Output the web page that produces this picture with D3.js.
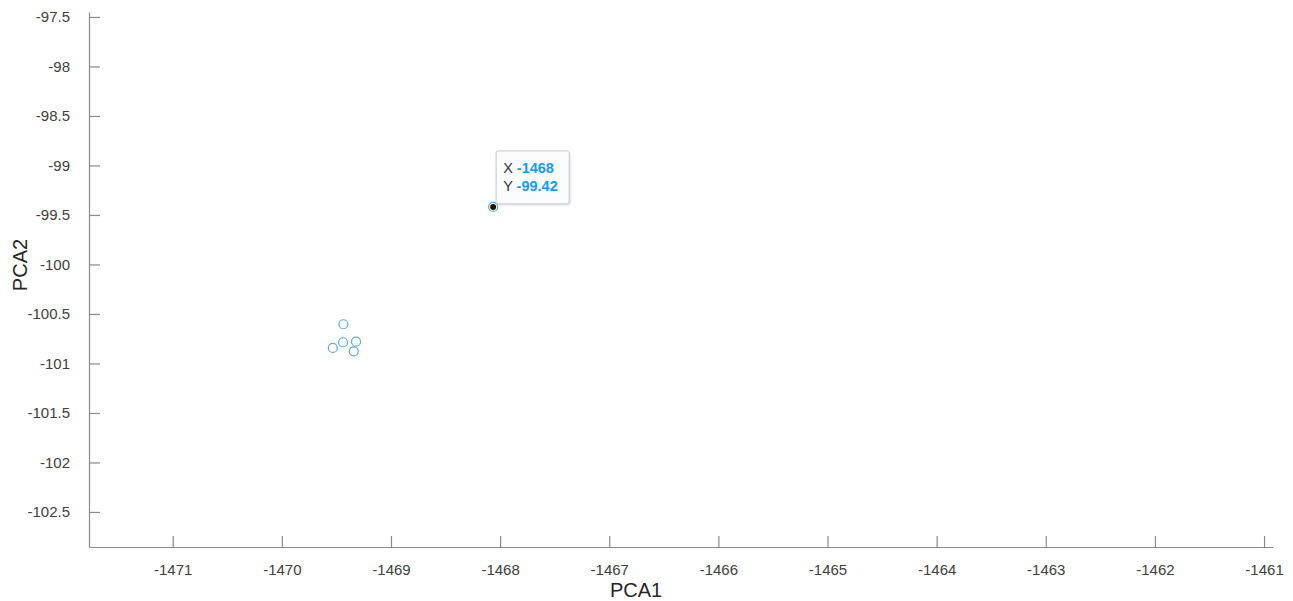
<!DOCTYPE html>
<html>
<head>
<meta charset="utf-8">
<script src="https://cdn.jsdelivr.net/npm/d3@7"></script>
<style>
  html, body { margin: 0; padding: 0; background: #fff; }
  svg { display: block; font-family: "Liberation Sans", Arial, Helvetica, sans-serif; }
</style>
</head>
<body>
<svg id="chart" width="1293" height="601"></svg>
<script>
// PCA scores
const pca1 = [-1469.436, -1469.439, -1469.533, -1469.320, -1469.341, -1468.064];
const pca2 = [-100.604, -100.786, -100.843, -100.780, -100.877, -99.419];
// index of the point carrying the data tip
const tipIndex = 5;

const xTicks = [-1471, -1470, -1469, -1468, -1467, -1466, -1465, -1464, -1463, -1462, -1461];
const yTicks = [-97.5, -98, -98.5, -99, -99.5, -100, -100.5, -101, -101.5, -102, -102.5];
const xDomain = [-1471.767, -1460.918];
const yDomain = [-102.854, -97.45];

(function () {
  const svg = d3.select("#chart");
  const mLeft = 89, mRight = 1273, mTop = 12, mBottom = 547;

  const x = d3.scaleLinear().domain(xDomain).range([mLeft, mRight]);
  const y = d3.scaleLinear().domain(yDomain).range([mBottom, mTop]);

  const axisColor = "#8a8a8a";
  const textColor = "#404040";
  // plain hyphen-minus for negative numbers
  const fmtLocale = d3.formatLocale({ decimal: ".", thousands: "", grouping: [3], currency: ["", ""], minus: "-" });
  const fmtTick = fmtLocale.format("~g");
  const fmtTip = fmtLocale.format(".4~r");

  // x axis (ticks pointing inward)
  const gx = svg.append("g")
    .attr("transform", `translate(0,${mBottom})`)
    .call(d3.axisBottom(x).tickValues(xTicks).tickSizeInner(-11).tickSizeOuter(0)
          .tickPadding(20).tickFormat(fmtTick));
  gx.select(".domain").attr("stroke", axisColor).attr("stroke-width", 1.2);
  gx.selectAll(".tick line").attr("stroke", axisColor).attr("stroke-width", 1.2);
  gx.selectAll(".tick text").attr("fill", textColor).attr("font-size", 15)
    .attr("font-family", "Liberation Sans, Arial, sans-serif").attr("dy", "0.5em");

  // y axis
  const gy = svg.append("g")
    .attr("transform", `translate(${mLeft},0)`)
    .call(d3.axisLeft(y).tickValues(yTicks).tickSizeInner(-11).tickSizeOuter(0)
          .tickPadding(19).tickFormat(fmtTick));
  gy.select(".domain").attr("stroke", axisColor).attr("stroke-width", 1.2);
  gy.selectAll(".tick line").attr("stroke", axisColor).attr("stroke-width", 1.2);
  gy.selectAll(".tick text").attr("fill", textColor).attr("font-size", 15)
    .attr("font-family", "Liberation Sans, Arial, sans-serif");

  // axis titles
  svg.append("text")
    .attr("x", 636).attr("y", 597)
    .attr("text-anchor", "middle").attr("font-size", 20).attr("fill", "#262626")
    .text("PCA1");
  svg.append("text")
    .attr("transform", `translate(27,265) rotate(-90)`)
    .attr("text-anchor", "middle").attr("font-size", 20).attr("fill", "#262626")
    .text("PCA2");

  // scatter markers
  const points = pca1.map((v, i) => ({ x: v, y: pca2[i] }));
  svg.append("g").selectAll("circle")
    .data(points)
    .join("circle")
    .attr("cx", d => x(d.x))
    .attr("cy", d => y(d.y))
    .attr("r", 4.5)
    .attr("fill", "none")
    .attr("stroke", "#5aaae0")
    .attr("stroke-width", 1.2);

  // data tip
  const tp = points[tipIndex];
  const tx = x(tp.x), ty = y(tp.y);
  svg.append("circle").attr("cx", tx).attr("cy", ty).attr("r", 3).attr("fill", "#111");

  const tip = svg.append("g").attr("transform", `translate(${tx + 3},${ty - 56})`);
  tip.append("rect")
    .attr("x", 0).attr("y", 0).attr("width", 73).attr("height", 53)
    .attr("rx", 2).attr("fill", "#fbfcfe").attr("stroke", "#c8c8c8").attr("stroke-width", 1)
    .style("filter", "drop-shadow(1px 1px 1px rgba(0,0,0,0.12))");
  const rows = [["X", fmtTip(tp.x)], ["Y", fmtTip(tp.y)]];
  rows.forEach((r, i) => {
    const t = tip.append("text").attr("x", 7).attr("y", 22 + i * 18).attr("font-size", 14.5);
    t.append("tspan").attr("fill", "#333").text(r[0] + " ");
    t.append("tspan").attr("fill", "#1a98ff").attr("font-weight", "bold").text(r[1]);
  });
})();
</script>
</body>
</html>
